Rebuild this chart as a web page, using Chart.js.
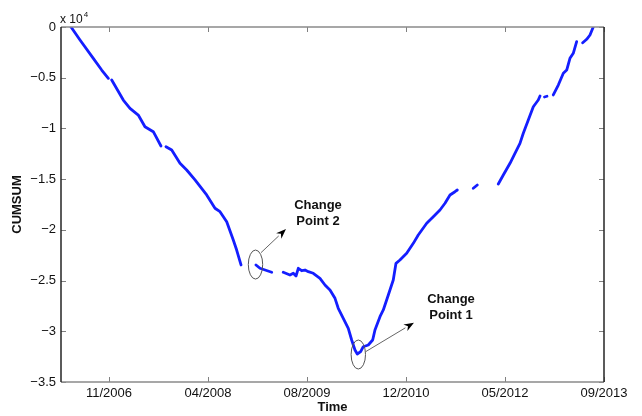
<!DOCTYPE html>
<html>
<head>
<meta charset="utf-8">
<script src="https://cdn.jsdelivr.net/npm/chart.js@4.4.1/dist/chart.umd.min.js"></script>
<style>
  html, body { margin: 0; padding: 0; background: #fff; }
</style>
</head>
<body>
<canvas id="myChart" width="642" height="416"></canvas>
<script>
// x = months counted from 01/2006 (0 = Jan 2006), null y = gap in the series
const months = [
  3.71, 5.20, 7.40, 8.79, 9.89, 10.17, 10.45, 12.37, 13.48, 14.85, 15.96, 17.34, 18.61, 19.0,
  19.44, 20.39, 21.76, 22.87, 24.25, 26.18, 27.56, 28.39, 29.50, 30.59, 31.15, 31.87, 33.0,
  34.35, 35.01, 36.95, 37.9,
  38.87, 39.98, 40.53, 40.98, 41.36, 41.92, 42.47, 43.02, 43.84, 44.95, 45.78, 46.61, 47.44,
  47.98, 48.81, 49.64, 50.20, 50.75, 51.13, 51.69, 52.12, 52.95, 53.68, 54.06, 54.89, 55.44,
  56.27, 57.09, 57.54, 58.20, 59.31, 60.41, 61.23, 62.63, 63.72, 64.83, 65.66, 66.49, 67.31,
  67.70, 69.0,
  70.35, 71.01, 72.7,
  74.49, 75.32, 76.43, 77.25, 78.08, 78.63, 79.46, 80.29, 81.11, 81.40, 81.8,
  82.14, 82.55, 83.1,
  83.60, 84.43, 85.26, 85.82, 86.36, 86.91, 87.47, 88.0,
  88.47, 89.13, 89.68, 90.22
];
const cumsum = [
  0, -1280, -3090, -4240, -5060, null, -5230, -7200, -8020, -8680, -9830, -10320, -11730, null,
  -11800, -12130, -13440, -14100, -15080, -16560, -17870, -18210, -19200, -21000, -21990, -23460, null,
  -23460, -23790, -24180, null,
  -24180, -24450, -24280, -24550, -23790, -24030, -23960, -24120, -24280, -24780, -25440, -25930, -26750,
  -27730, -28720, -29710, -30860, -31840, -32240, -32010, -31520, -31350, -30860, -29870, -28560, -27900,
  -26420, -24940, -23300, -22970, -22310, -21330, -20510, -19350, -18700, -18040, -17380, -16560, -16240,
  -16070, null,
  -15900, -15580, null,
  -15480, -14590, -13440, -12450, -11470, -10480, -9170, -7860, -7200, -6800, null,
  -6900, -6830, null,
  -6700, -5720, -4560, -4240, -3090, -2590, -1450, null,
  -1550, -1210, -790, 0
];
const tickMonths = [10, 26.4, 42.8, 59.2, 75.6, 92];
const tickLabels = ['11/2006', '04/2008', '08/2009', '12/2010', '05/2012', '09/2013'];

// change point annotations (data coordinates)
const changePoints = [
  { text: ['Change', 'Point 2'], at: [34.27, -23420], from: [35.18, -22250], to: [39.32, -19920], label: [44.62, -18340] },
  { text: ['Change', 'Point 1'], at: [51.30, -32290], from: [52.52, -32010], to: [60.52, -29150], label: [66.65, -27680] }
];

Chart.defaults.font.family = "'Liberation Sans', Arial, Helvetica, sans-serif";
Chart.defaults.color = '#111';

const points = months.map((m, i) => ({ x: m, y: cumsum[i] }));

const matlabBox = {
  id: 'matlabBox',
  afterDraw(chart) {
    const { ctx, chartArea: a, scales: { x, y } } = chart;
    ctx.save();
    // tick marks pointing inwards on all four sides
    ctx.strokeStyle = '#808080';
    ctx.lineWidth = 1;
    tickMonths.forEach(m => {
      const px = Math.round(x.getPixelForValue(m)) + 0.5;
      ctx.beginPath();
      ctx.moveTo(px, a.bottom); ctx.lineTo(px, a.bottom - 5);
      ctx.moveTo(px, a.top); ctx.lineTo(px, a.top + 5);
      ctx.stroke();
    });
    y.ticks.forEach(t => {
      const py = Math.round(y.getPixelForValue(t.value)) + 0.5;
      ctx.beginPath();
      ctx.moveTo(a.left, py); ctx.lineTo(a.left + 5, py);
      ctx.moveTo(a.right, py); ctx.lineTo(a.right - 5, py);
      ctx.stroke();
    });
    // frame
    ctx.lineWidth = 1.5;
    ctx.strokeStyle = '#8a8a8a';
    ctx.beginPath();
    ctx.moveTo(a.left, a.top); ctx.lineTo(a.right, a.top);
    ctx.moveTo(a.left, a.bottom); ctx.lineTo(a.right, a.bottom);
    ctx.stroke();
    ctx.strokeStyle = '#262626';
    ctx.beginPath();
    ctx.moveTo(a.left, a.top); ctx.lineTo(a.left, a.bottom);
    ctx.moveTo(a.right, a.top); ctx.lineTo(a.right, a.bottom);
    ctx.stroke();

    // exponent label
    ctx.fillStyle = '#111';
    ctx.textBaseline = 'alphabetic';
    ctx.textAlign = 'left';
    ctx.font = "12px 'Liberation Sans', Arial, sans-serif";
    ctx.fillText('x 10', a.left - 1, a.top - 4);
    const w = ctx.measureText('x 10').width;
    ctx.font = "8px 'Liberation Sans', Arial, sans-serif";
    ctx.fillText('4', a.left - 1 + w + 1, a.top - 10);

    // change point annotations
    changePoints.forEach(cp => {
      const cx = x.getPixelForValue(cp.at[0]), cy = y.getPixelForValue(cp.at[1]);
      ctx.strokeStyle = '#555';
      ctx.lineWidth = 1;
      ctx.beginPath();
      ctx.ellipse(cx, cy, 7.2, 14.5, 0, 0, Math.PI * 2);
      ctx.stroke();

      const x0 = x.getPixelForValue(cp.from[0]), y0 = y.getPixelForValue(cp.from[1]);
      const x1 = x.getPixelForValue(cp.to[0]), y1 = y.getPixelForValue(cp.to[1]);
      const ang = Math.atan2(y1 - y0, x1 - x0);
      const hl = 10, hw = 3.8;
      ctx.strokeStyle = '#666';
      ctx.beginPath();
      ctx.moveTo(x0, y0);
      ctx.lineTo(x1 - hl * Math.cos(ang), y1 - hl * Math.sin(ang));
      ctx.stroke();
      ctx.fillStyle = '#000';
      ctx.beginPath();
      ctx.moveTo(x1, y1);
      ctx.lineTo(x1 - hl * Math.cos(ang) + hw * Math.sin(ang), y1 - hl * Math.sin(ang) - hw * Math.cos(ang));
      ctx.lineTo(x1 - hl * 0.7 * Math.cos(ang), y1 - hl * 0.7 * Math.sin(ang));
      ctx.lineTo(x1 - hl * Math.cos(ang) - hw * Math.sin(ang), y1 - hl * Math.sin(ang) + hw * Math.cos(ang));
      ctx.closePath();
      ctx.fill();

      const tx = x.getPixelForValue(cp.label[0]), ty = y.getPixelForValue(cp.label[1]);
      ctx.fillStyle = '#111';
      ctx.font = "bold 13px 'Liberation Sans', Arial, sans-serif";
      ctx.textAlign = 'center';
      ctx.textBaseline = 'middle';
      ctx.fillText(cp.text[0], tx, ty - 8);
      ctx.fillText(cp.text[1], tx, ty + 8);
    });
    ctx.restore();
  }
};

const ctx = document.getElementById('myChart').getContext('2d');
const myChart = new Chart(ctx, {
  type: 'line',
  data: {
    datasets: [{
      data: points,
      borderColor: 'rgb(20, 30, 255)',
      borderWidth: 2.8,
      borderCapStyle: 'round',
      borderJoinStyle: 'round',
      pointRadius: 0,
      tension: 0,
      spanGaps: false
    }]
  },
  options: {
    responsive: false,
    animation: false,
    layout: { padding: { top: 27, right: 38, left: 0, bottom: 0 } },
    plugins: { legend: { display: false }, tooltip: { enabled: false } },
    scales: {
      x: {
        type: 'linear',
        min: 2.05,
        max: 92,
        afterFit: s => { s.height = 34; },
        afterBuildTicks: s => { s.ticks = tickMonths.map(v => ({ value: v })); },
        grid: { display: false, drawTicks: false },
        border: { display: false },
        ticks: {
          autoSkip: false,
          maxRotation: 0,
          padding: 4,
          font: { size: 13 },
          color: '#111',
          callback: v => tickLabels[tickMonths.indexOf(v)]
        },
        title: {
          display: true,
          text: 'Time',
          font: { size: 13, weight: 'bold' },
          color: '#111',
          padding: { top: 0, bottom: 1 }
        }
      },
      y: {
        min: -35000,
        max: 0,
        afterFit: s => { s.width = 61; },
        grid: { display: false, drawTicks: false },
        border: { display: false },
        ticks: {
          stepSize: 5000,
          padding: 5,
          font: { size: 13 },
          color: '#111',
          callback: v => (v / 10000).toString().replace('-', '\u2212')
        },
        title: {
          display: true,
          text: 'CUMSUM',
          font: { size: 13, weight: 'bold' },
          color: '#111',
          padding: { top: 10, bottom: 0 }
        }
      }
    }
  },
  plugins: [matlabBox]
});
</script>
</body>
</html>
